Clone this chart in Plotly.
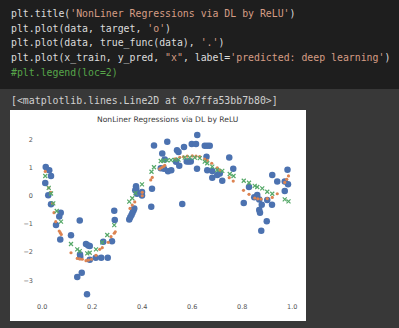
import plotly.graph_objects as go

W, H = 399, 328

# ---- data ----
data_x = [0.014, 0.028, 0.035, 0.012, 0.024, 0.035, 0.074, 0.068, 0.055, 0.072,
          0.115, 0.150, 0.175, 0.184, 0.190, 0.151, 0.152, 0.190, 0.214, 0.236,
          0.262, 0.140, 0.158, 0.179, 0.244, 0.279, 0.290, 0.288, 0.348, 0.352,
          0.357, 0.361, 0.365, 0.368, 0.375, 0.376, 0.372, 0.379, 0.399, 0.399,
          0.436, 0.439, 0.447, 0.480, 0.474, 0.487, 0.500, 0.490, 0.503, 0.516,
          0.539, 0.545, 0.535, 0.548, 0.560, 0.567, 0.578, 0.586, 0.594, 0.598,
          0.620, 0.615, 0.619, 0.650, 0.660, 0.670, 0.657, 0.660, 0.680, 0.680,
          0.700, 0.710, 0.720, 0.748, 0.764, 0.806, 0.827, 0.848, 0.860, 0.868,
          0.878, 0.868, 0.871, 0.898, 0.876, 0.900, 0.919, 0.920, 0.940, 0.970,
          0.970, 0.983, 0.981]
target = [1.02, 0.90, 0.70, 0.45, 0.02, -0.30, -0.60, -0.74, -1.04, -1.55,
          -1.40, -0.88, -1.71, -1.76, -1.78, -2.08, -2.17, -2.27, -2.20, -2.20,
          -2.20, -2.88, -2.73, -3.49, -1.63, -1.61, -0.86, -0.53, -0.84, -0.76,
          -0.68, -0.60, -0.52, -0.45, 0.34, 0.25, 0.19, 0.07, 0.13, 0.01,
          -0.39, 0.25, 1.78, 1.50, 0.97, 0.96, 1.91, 1.28, 0.87, 0.90,
          1.61, 1.55, 1.20, 1.06, -0.29, 1.73, 1.21, 1.21, 1.21, 1.83,
          2.15, 1.83, 0.96, 1.77, 1.77, 1.77, 1.38, 0.90, 0.88, 0.64,
          0.73, 0.79, 0.53, 1.35, 0.96, -0.26, 0.31, -0.05, 0.03, -0.13,
          -0.32, -0.51, -0.60, -0.90, -1.24, -0.15, -0.32, 0.73, 0.50, 0.17,
          0.50, 0.41, 0.92]

true_x = [0.012, 0.026, 0.034, 0.042, 0.047, 0.054, 0.068, 0.072, 0.076, 0.115,
          0.140, 0.150, 0.160, 0.175, 0.185, 0.197, 0.215, 0.230, 0.240, 0.264,
          0.275, 0.288, 0.292, 0.351, 0.360, 0.370, 0.400, 0.400, 0.434, 0.440,
          0.470, 0.478, 0.486, 0.490, 0.532, 0.550, 0.565, 0.580, 0.600, 0.615,
          0.630, 0.650, 0.660, 0.678, 0.700, 0.710, 0.748, 0.764, 0.805, 0.827,
          0.850, 0.862, 0.875, 0.900, 0.920, 0.940, 0.970, 0.978, 0.985]
true_y = [0.86, 0.28, 0.12, -0.27, -0.60, -0.92, -1.25, -1.31, -1.37, -2.02,
          -2.22, -2.24, -2.25, -2.30, -2.28, -2.25, -2.11, -1.90, -1.84, -1.65,
          -1.45, -1.33, -1.28, -0.45, -0.33, -0.22, 0.00, 0.12, 0.56, 0.65,
          0.95, 1.00, 1.04, 1.08, 1.31, 1.36, 1.38, 1.40, 1.41, 1.40,
          1.39, 1.30, 1.25, 1.15, 0.99, 0.91, 0.64, 0.52, 0.19, 0.05,
          -0.08, -0.11, -0.12, -0.10, -0.06, 0.07, 0.47, 0.58, 0.70]

x_train = [0.012, 0.026, 0.035, 0.044, 0.058, 0.075, 0.115, 0.140, 0.150, 0.180,
           0.190, 0.215, 0.240, 0.260, 0.288, 0.348, 0.360, 0.373, 0.399, 0.437,
           0.447, 0.474, 0.485, 0.500, 0.515, 0.530, 0.545, 0.570, 0.590, 0.610,
           0.630, 0.650, 0.660, 0.680, 0.700, 0.720, 0.750, 0.765, 0.806, 0.827,
           0.850, 0.860, 0.880, 0.900, 0.920, 0.970, 0.985]
y_pred = [0.70, 0.28, 0.08, -0.27, -0.54, -0.92, -1.71, -1.90, -1.96, -2.04,
          -2.02, -1.90, -1.65, -1.39, -1.04, -0.21, -0.09, 0.09, 0.40, 0.85,
          1.01, 1.23, 1.24, 1.25, 1.26, 1.27, 1.28, 1.35, 1.35, 1.35,
          1.33, 1.21, 1.15, 1.03, 0.91, 0.88, 0.77, 0.70, 0.53, 0.46,
          0.35, 0.31, 0.26, 0.14, 0.07, -0.13, -0.20]

x_ticks = [0.0, 0.2, 0.4, 0.6, 0.8, 1.0]
x_tick_labels = ["0.0", "0.2", "0.4", "0.6", "0.8", "1.0"]
y_ticks = [-3, -2, -1, 0, 1, 2]
y_tick_labels = ["\u22123", "\u22122", "\u22121", "0", "1", "2"]

title_text = "NonLiner Regressions via DL by ReLU"

WHITE_TXT = "#dcdcdc"
STR = "#d69d85"
COM = "#57a64a"
code_lines = [
    "plt.title(<span style='color:%s'>'NonLiner Regressions via DL by ReLU'</span>)" % STR,
    "plt.plot(data, target, <span style='color:%s'>'o'</span>)" % STR,
    "plt.plot(data, true_func(data), <span style='color:%s'>'.'</span>)" % STR,
    "plt.plot(x_train, y_pred, <span style='color:%s'>\"x\"</span>, label=<span style='color:%s'>'predicted: deep learning'</span>)" % (STR, STR),
    "<span style='color:%s'>#plt.legend(loc=2)</span>" % COM,
]
output_line = "[&lt;matplotlib.lines.Line2D at 0x7ffa53bb7b80&gt;]"


def px(x):
    return x / W


def py(y):
    return 1 - y / H


fig = go.Figure()
fig.add_trace(go.Scatter(x=data_x, y=target, mode="markers",
                         marker=dict(color="#4c72b0", size=6.5, line=dict(width=0)),
                         showlegend=False))
fig.add_trace(go.Scatter(x=true_x, y=true_y, mode="markers",
                         marker=dict(color="#dd8452", size=3.2, line=dict(width=0)),
                         showlegend=False))
fig.add_trace(go.Scatter(x=x_train, y=y_pred, mode="markers",
                         name="predicted: deep learning",
                         marker=dict(symbol="x-thin", size=4,
                                     line=dict(width=1.2, color="#55a868"),
                                     color="#55a868"),
                         showlegend=False))

shapes = [
    dict(type="rect", xref="paper", yref="paper", x0=0, x1=1, y0=py(89), y1=1,
         fillcolor="#1e1e1e", line=dict(width=0), layer="below"),
    dict(type="rect", xref="paper", yref="paper", x0=px(10), x1=px(306),
         y0=py(321), y1=py(110), fillcolor="#ffffff", line=dict(width=0), layer="below"),
]

annotations = []
line_y = [13.5, 28.3, 43.1, 57.9, 72.7]
for t, yy in zip(code_lines, line_y):
    annotations.append(dict(text=t, xref="paper", yref="paper", x=px(9), y=py(yy),
                            xanchor="left", yanchor="middle", showarrow=False,
                            font=dict(family="DejaVu Sans Mono", size=9.85, color=WHITE_TXT)))
annotations.append(dict(text=output_line, xref="paper", yref="paper", x=px(9), y=py(100.7),
                        xanchor="left", yanchor="middle", showarrow=False,
                        font=dict(family="DejaVu Sans Mono", size=9.85, color="#d0d0d0")))
annotations.append(dict(text=title_text, xref="paper", yref="paper", x=px(167), y=py(119),
                        xanchor="center", yanchor="middle", showarrow=False,
                        font=dict(family="DejaVu Sans", size=7.6, color="#3a3a3a")))

fig.update_layout(
    width=W, height=H,
    margin=dict(l=0, r=0, t=0, b=0),
    paper_bgcolor="#383838",
    plot_bgcolor="#eaeaf2",
    shapes=shapes,
    annotations=annotations,
    showlegend=False,
    xaxis=dict(domain=[px(34), px(300)], range=[-0.033, 1.031],
               tickvals=x_ticks, ticktext=x_tick_labels, showgrid=True,
               gridcolor="white", griddash="4px,2px", gridwidth=1, zeroline=False,
               showline=False, ticks="", tickfont=dict(family="DejaVu Sans", size=6.5, color="#555555")),
    yaxis=dict(domain=[py(301.3), py(127.7)], range=[-3.74, 2.41],
               tickvals=y_ticks, ticktext=y_tick_labels, showgrid=True,
               gridcolor="white", griddash="4px,2px", gridwidth=1, zeroline=False,
               showline=False, ticks="", tickfont=dict(family="DejaVu Sans", size=6.5, color="#555555")),
)

fig.write_html("out.html")
